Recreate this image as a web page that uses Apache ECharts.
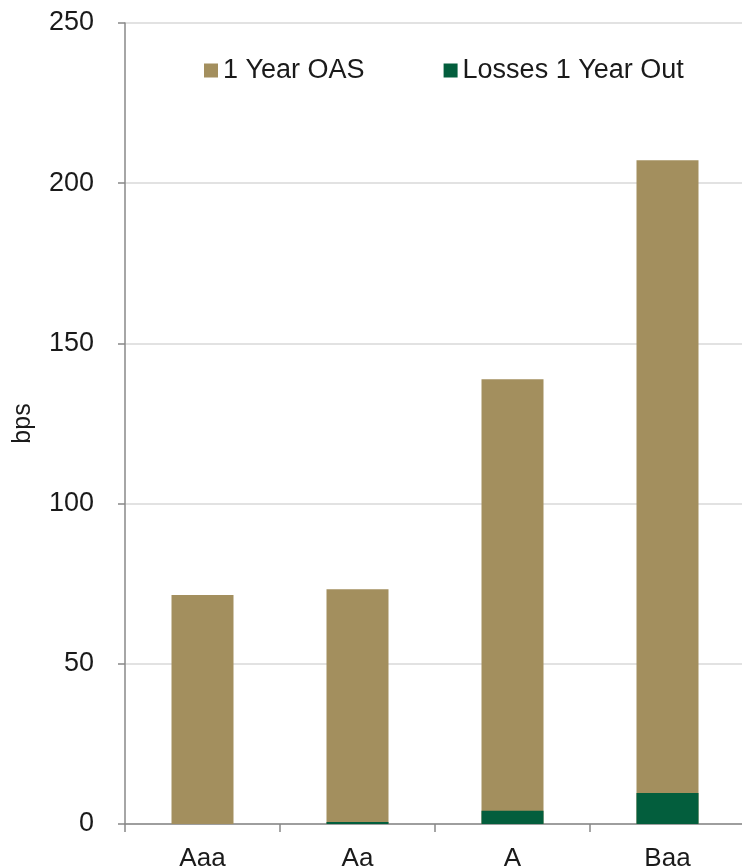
<!DOCTYPE html>
<html>
<head>
<meta charset="utf-8">
<script src="https://cdn.jsdelivr.net/npm/echarts@6/dist/echarts.min.js"></script>
<style>
html,body{margin:0;padding:0;background:#fff;}
#chart{width:742px;height:868px;}
</style>
</head>
<body>
<div id="chart"></div>
<script>
const categories = ["Aaa", "Aa", "A", "Baa"];
const oasValues = [71.5, 73.3, 138.8, 207.2];
const lossValues = [0, 0.6, 4.1, 9.7];
const yTicks = [0, 50, 100, 150, 200, 250];

const chart = echarts.init(document.getElementById('chart'), null, {renderer: 'canvas'});
const font = '"Liberation Sans", Arial, sans-serif';
chart.setOption({
  animation: false,
  backgroundColor: '#ffffff',
  textStyle: {fontFamily: font},
  legend: {
    top: 52,
    left: 199,
    icon: 'rect',
    itemWidth: 14,
    itemHeight: 14,
    itemGap: 79,
    textStyle: {fontSize: 27, color: '#1a1a1a', fontFamily: font},
    data: ['1 Year OAS', 'Losses 1 Year Out']
  },
  grid: {left: 125, right: -3, top: 23, bottom: 44, containLabel: false, outerBoundsMode: 'none'},
  xAxis: {
    type: 'category',
    data: categories,
    axisLine: {lineStyle: {color: '#888888', width: 1.5}},
    axisTick: {show: true, length: 8, lineStyle: {color: '#888888', width: 1.5}},
    axisLabel: {fontSize: 26, color: '#1a1a1a', margin: 22, fontFamily: font}
  },
  yAxis: {
    type: 'value',
    min: yTicks[0],
    max: yTicks[yTicks.length - 1],
    interval: 50,
    name: 'bps',
    nameLocation: 'middle',
    nameGap: 89,
    nameRotate: 90,
    nameTextStyle: {fontSize: 25, color: '#1a1a1a', fontFamily: font},
    axisLine: {show: true, lineStyle: {color: '#888888', width: 1.5}},
    axisTick: {show: true, length: 7, lineStyle: {color: '#888888', width: 1.5}},
    axisLabel: {fontSize: 27, color: '#1a1a1a', margin: 31, fontFamily: font},
    splitLine: {lineStyle: {color: '#d9d9d9', width: 1.5}}
  },
  series: [
    {
      name: '1 Year OAS',
      type: 'bar',
      data: oasValues,
      barWidth: 62,
      barGap: '-100%',
      itemStyle: {color: '#A38F5E'}
    },
    {
      name: 'Losses 1 Year Out',
      type: 'bar',
      data: lossValues,
      barWidth: 62,
      barGap: '-100%',
      itemStyle: {color: '#035E3D'}
    }
  ]
});
</script>
</body>
</html>
